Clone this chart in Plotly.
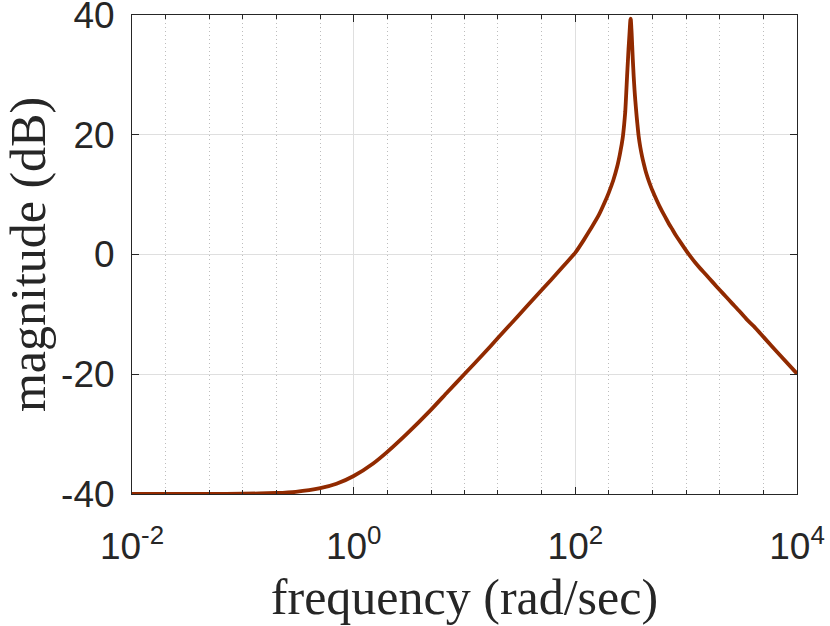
import plotly.graph_objects as go

# frequency (rad/sec) and magnitude (dB)
freq = [0.01, 0.02, 0.05, 0.1, 0.2, 0.3, 0.5, 0.7, 1.0, 1.5, 2.0, 3.0, 5.0, 7.0,
        10, 15, 20, 30, 45, 60, 80, 100, 119, 140, 163, 185, 200, 220, 238, 252,
        262, 269, 276, 282, 288, 293, 298, 302, 306, 309, 312, 314, 315.5, 317,
        319, 322, 326, 330, 336, 342, 348, 355, 362, 373, 385, 400, 414, 430, 450,
        470, 493, 520, 550, 580, 607, 650, 700, 750, 801, 900, 1022, 1100, 1200,
        1350, 1497, 1750, 2000, 2300, 2608, 3000, 3500, 4087, 5000, 7000, 10000]
mag_db = [-40.0, -40.0, -39.99, -39.96, -39.83, -39.63, -39.03, -38.3, -37.0, -34.9,
          -33.0, -30.0, -25.9, -23.0, -19.96, -16.5, -13.95, -10.4, -6.8, -4.3, -1.7,
          0.3, 2.4, 4.5, 6.6, 8.8, 10.3, 12.4, 14.6, 16.7,
          18.4, 19.8, 21.8, 23.8, 27.0, 29.8, 32.3, 34.3, 36.0, 37.3, 38.6, 39.2, 39.4, 39.2,
          38.4, 37.0, 34.8, 32.6, 29.8, 27.5, 25.6, 23.7, 22.0, 19.7, 18.0, 16.4, 15.2, 14.0, 12.8,
          11.8, 10.8, 9.8, 8.8, 7.9, 7.2, 6.2, 5.1, 4.2, 3.3, 1.9, 0.4, -0.4, -1.3,
          -2.4, -3.3, -4.7, -5.9, -7.1, -8.2, -9.4, -10.8, -12.0, -13.8, -16.8, -19.9]

x_tickvals = [1e-2, 1e0, 1e2, 1e4]
x_ticktext = ["10<sup>-2</sup>", "10<sup>0</sup>", "10<sup>2</sup>", "10<sup>4</sup>"]
y_tickvals = [-40, -20, 0, 20, 40]
y_ticktext = ["-40", "-20", "0", "20", "40"]

axis_col = "#262626"
grid_col = "#dfdfdf"
tick_font = dict(family="Liberation Sans, Arial, sans-serif", size=37, color=axis_col)
title_font = dict(family="Liberation Serif, Times New Roman, serif", size=50, color=axis_col)

fig = go.Figure()
fig.add_trace(go.Scatter(x=freq, y=mag_db, mode="lines",
                         line=dict(color="rgb(145,42,0)", width=3.8,
                                   shape="spline", smoothing=0.5)))

fig.update_xaxes(
    type="log", range=[-2, 4],
    tickvals=x_tickvals, ticktext=x_ticktext,
    ticks="inside", ticklen=7, tickcolor=axis_col, tickwidth=1,
    showline=True, linecolor=axis_col, linewidth=1, mirror="ticks",
    showgrid=True, gridcolor=grid_col, gridwidth=1,
    minor=dict(ticks="inside", ticklen=4, tickcolor=axis_col,
               showgrid=True, gridcolor="#bdbdbd", griddash="1px,3px", gridwidth=1),
    tickfont=tick_font, ticklabelstandoff=20, ticklabeloverflow="allow",
    title=dict(text="frequency (rad/sec)", font=title_font, standoff=12),
    zeroline=False, automargin=False,
)
fig.update_yaxes(
    range=[-40, 40],
    tickvals=y_tickvals, ticktext=y_ticktext,
    ticks="inside", ticklen=7, tickcolor=axis_col, tickwidth=1,
    showline=True, linecolor=axis_col, linewidth=1, mirror="ticks",
    showgrid=True, gridcolor=grid_col, gridwidth=1,
    tickfont=tick_font, ticklabelstandoff=9, ticklabeloverflow="allow",
    title=dict(text="magnitude (dB)", font=title_font, standoff=12),
    zeroline=False, automargin=False,
)

fig.update_layout(
    width=830, height=626,
    margin=dict(l=132, r=33, t=15, b=132),
    paper_bgcolor="white", plot_bgcolor="white",
    showlegend=False,
)

fig.write_html("out.html", config={"displayModeBar": False},
               post_script="document.body.style.margin='0px';")
